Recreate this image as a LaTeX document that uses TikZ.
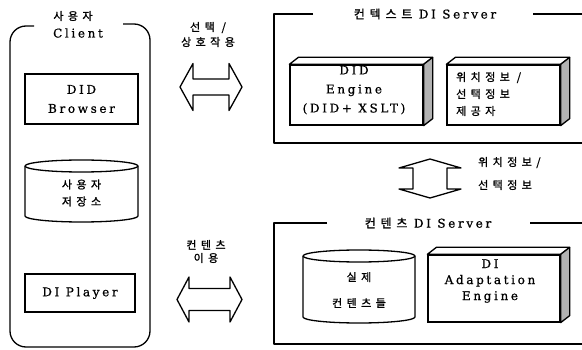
\documentclass[tikz,border=0pt]{standalone}
\usepackage{fontspec}
\setmainfont[LetterSpace=22, FakeBold=0.8]{DejaVu Serif}
\newfontfamily\hangulfont[LetterSpace=40, FakeBold=1.2]{Noto Sans CJK KR}
\newcommand{\hg}[1]{{\hangulfont #1}}
\usetikzlibrary{calc}

% outlined double-headed block arrow:
% centre, half length, head length, half head width, half shaft width, rotation
\newcommand{\dblblock}[6]{%
  \draw[outline, fill=white, shift={(#1)}, rotate=#6]
    (-#2,0) -- (-#2+#3,-#4) -- (-#2+#3,-#5) -- (#2-#3,-#5) -- (#2-#3,-#4)
    -- (#2,0) -- (#2-#3,#4) -- (#2-#3,#5) -- (-#2+#3,#5) -- (-#2+#3,#4) -- cycle;}

\begin{document}
\begin{tikzpicture}[x=1pt,y=-1pt,
  outline/.style={line width=1.3pt, line join=round},
  box/.style={draw, line width=1.3pt, fill=white, inner sep=0pt},
  side/.style={outline, fill=gray!60},
  lid/.style={outline, fill=white},
  txt/.style={inner sep=0pt, align=center, font=\fontsize{12}{19}\selectfont},
  krtxt/.style={inner sep=0pt, align=center, font=\fontsize{11}{17}\selectfont}]

\useasboundingbox (0,0) rectangle (582,350);

% ---------------- client side ----------------
\draw[outline, rounded corners=16pt]
  (34,26) -- (10,26) -- (10,347) -- (150,347) -- (150,24) -- (123,24);
\node[krtxt] (clientKo) at (73,16) {\hg{사용자}};
\node[txt] (client) at (78,33) {Client};

\node[box, txt, minimum width=113pt, minimum height=50pt] (browser) at (81.5,99) {DID\\Browser};

% user storage (cylinder)
\draw[outline, fill=white] (25,166) -- (25,216)
  arc[start angle=180, end angle=0, x radius=56.5, y radius=6] -- (138,166)
  arc[start angle=0, end angle=-180, x radius=56.5, y radius=6];
\draw[outline] (25,166) arc[start angle=180, end angle=0, x radius=56.5, y radius=6];
\node[krtxt] (store) at (81.5,193) {\hg{사용자}\\\hg{저장소}};

\node[box, txt, minimum width=110pt, minimum height=38pt] (player) at (80,293) {DI Player};

% ---------------- interaction arrows ----------------
\node[krtxt, font=\fontsize{11}{15}\selectfont] (selLbl) at (208,34.5) {\hg{선택 /}\\\hg{상호작용}};
\dblblock{211,87}{31}{13}{23.5}{8}{0}
\node[krtxt, font=\fontsize{11}{13}\selectfont] (useLbl) at (206,251.5) {\hg{컨텐츠}\\\hg{이용}};
\dblblock{209.5,299.5}{32.5}{12}{22.5}{11}{0}

% ---------------- context DI server ----------------
\node[txt] (ctxTitle) at (425,14) {\hg{컨텍스트}\ DI Server};
\draw[outline] (313,14) -- (274,14) -- (274,143) -- (583,143);
\draw[outline] (533,14) -- (583,14);

\node[box, minimum width=133pt, minimum height=60pt] (engine) at (356.5,95) {};
\draw[lid] (engine.north west) -- ++(9,-7) -- ($(engine.north east)+(9,-7)$) -- (engine.north east) -- cycle;
\draw[side] (engine.north east) -- ++(9,-7) -- ($(engine.south east)+(9,-7)$) -- (engine.south east) -- cycle;
\node[txt] (engineText) at (354,90) {DID\\Engine\\(DID+ XSLT)};

\node[box, minimum width=113pt, minimum height=60pt] (provider) at (503.5,95) {};
\draw[lid] (provider.north west) -- ++(9,-7) -- ($(provider.north east)+(9,-7)$) -- (provider.north east) -- cycle;
\draw[side] (provider.north east) -- ++(9,-7) -- ($(provider.south east)+(9,-7)$) -- (provider.south east) -- cycle;
\node[krtxt, align=left, anchor=west] (providerText) at (456,94) {\hg{위치정보 /}\\\hg{선택정보}\\\hg{제공자}};

% ---------------- info exchange arrow ----------------
\dblblock{430,178.5}{19.5}{9}{31}{17}{90}
\node[krtxt, align=left, anchor=west, font=\fontsize{11}{23}\selectfont] (infoLbl) at (478,173.5) {\hg{위치정보/}\\\hg{선택정보}};

% ---------------- contents DI server ----------------
\node[txt] (cntTitle) at (428,223) {\hg{컨텐츠}\ DI Server};
\draw[outline] (327,223) -- (274,223) -- (274,344) -- (583,344);
\draw[outline] (530,223) -- (583,223);

% stored contents (cylinder)
\draw[outline, fill=white] (303,256) -- (303,317)
  arc[start angle=180, end angle=0, x radius=56, y radius=6] -- (415,256)
  arc[start angle=0, end angle=-180, x radius=56, y radius=6];
\draw[outline] (303,256) arc[start angle=180, end angle=0, x radius=56, y radius=6];
\node[krtxt, font=\fontsize{11}{26}\selectfont] (contents) at (359,290) {\hg{실제}\\\hg{컨텐츠들}};

\node[box, minimum width=132pt, minimum height=67pt] (adapt) at (494,288.5) {};
\draw[lid] (adapt.north west) -- ++(9,-7) -- ($(adapt.north east)+(9,-7)$) -- (adapt.north east) -- cycle;
\draw[side] (adapt.north east) -- ++(9,-7) -- ($(adapt.south east)+(9,-7)$) -- (adapt.south east) -- cycle;
\node[txt, font=\fontsize{12}{16}\selectfont] (adaptText) at (490,281) {DI\\Adaptation\\Engine};

\end{tikzpicture}
\end{document}
